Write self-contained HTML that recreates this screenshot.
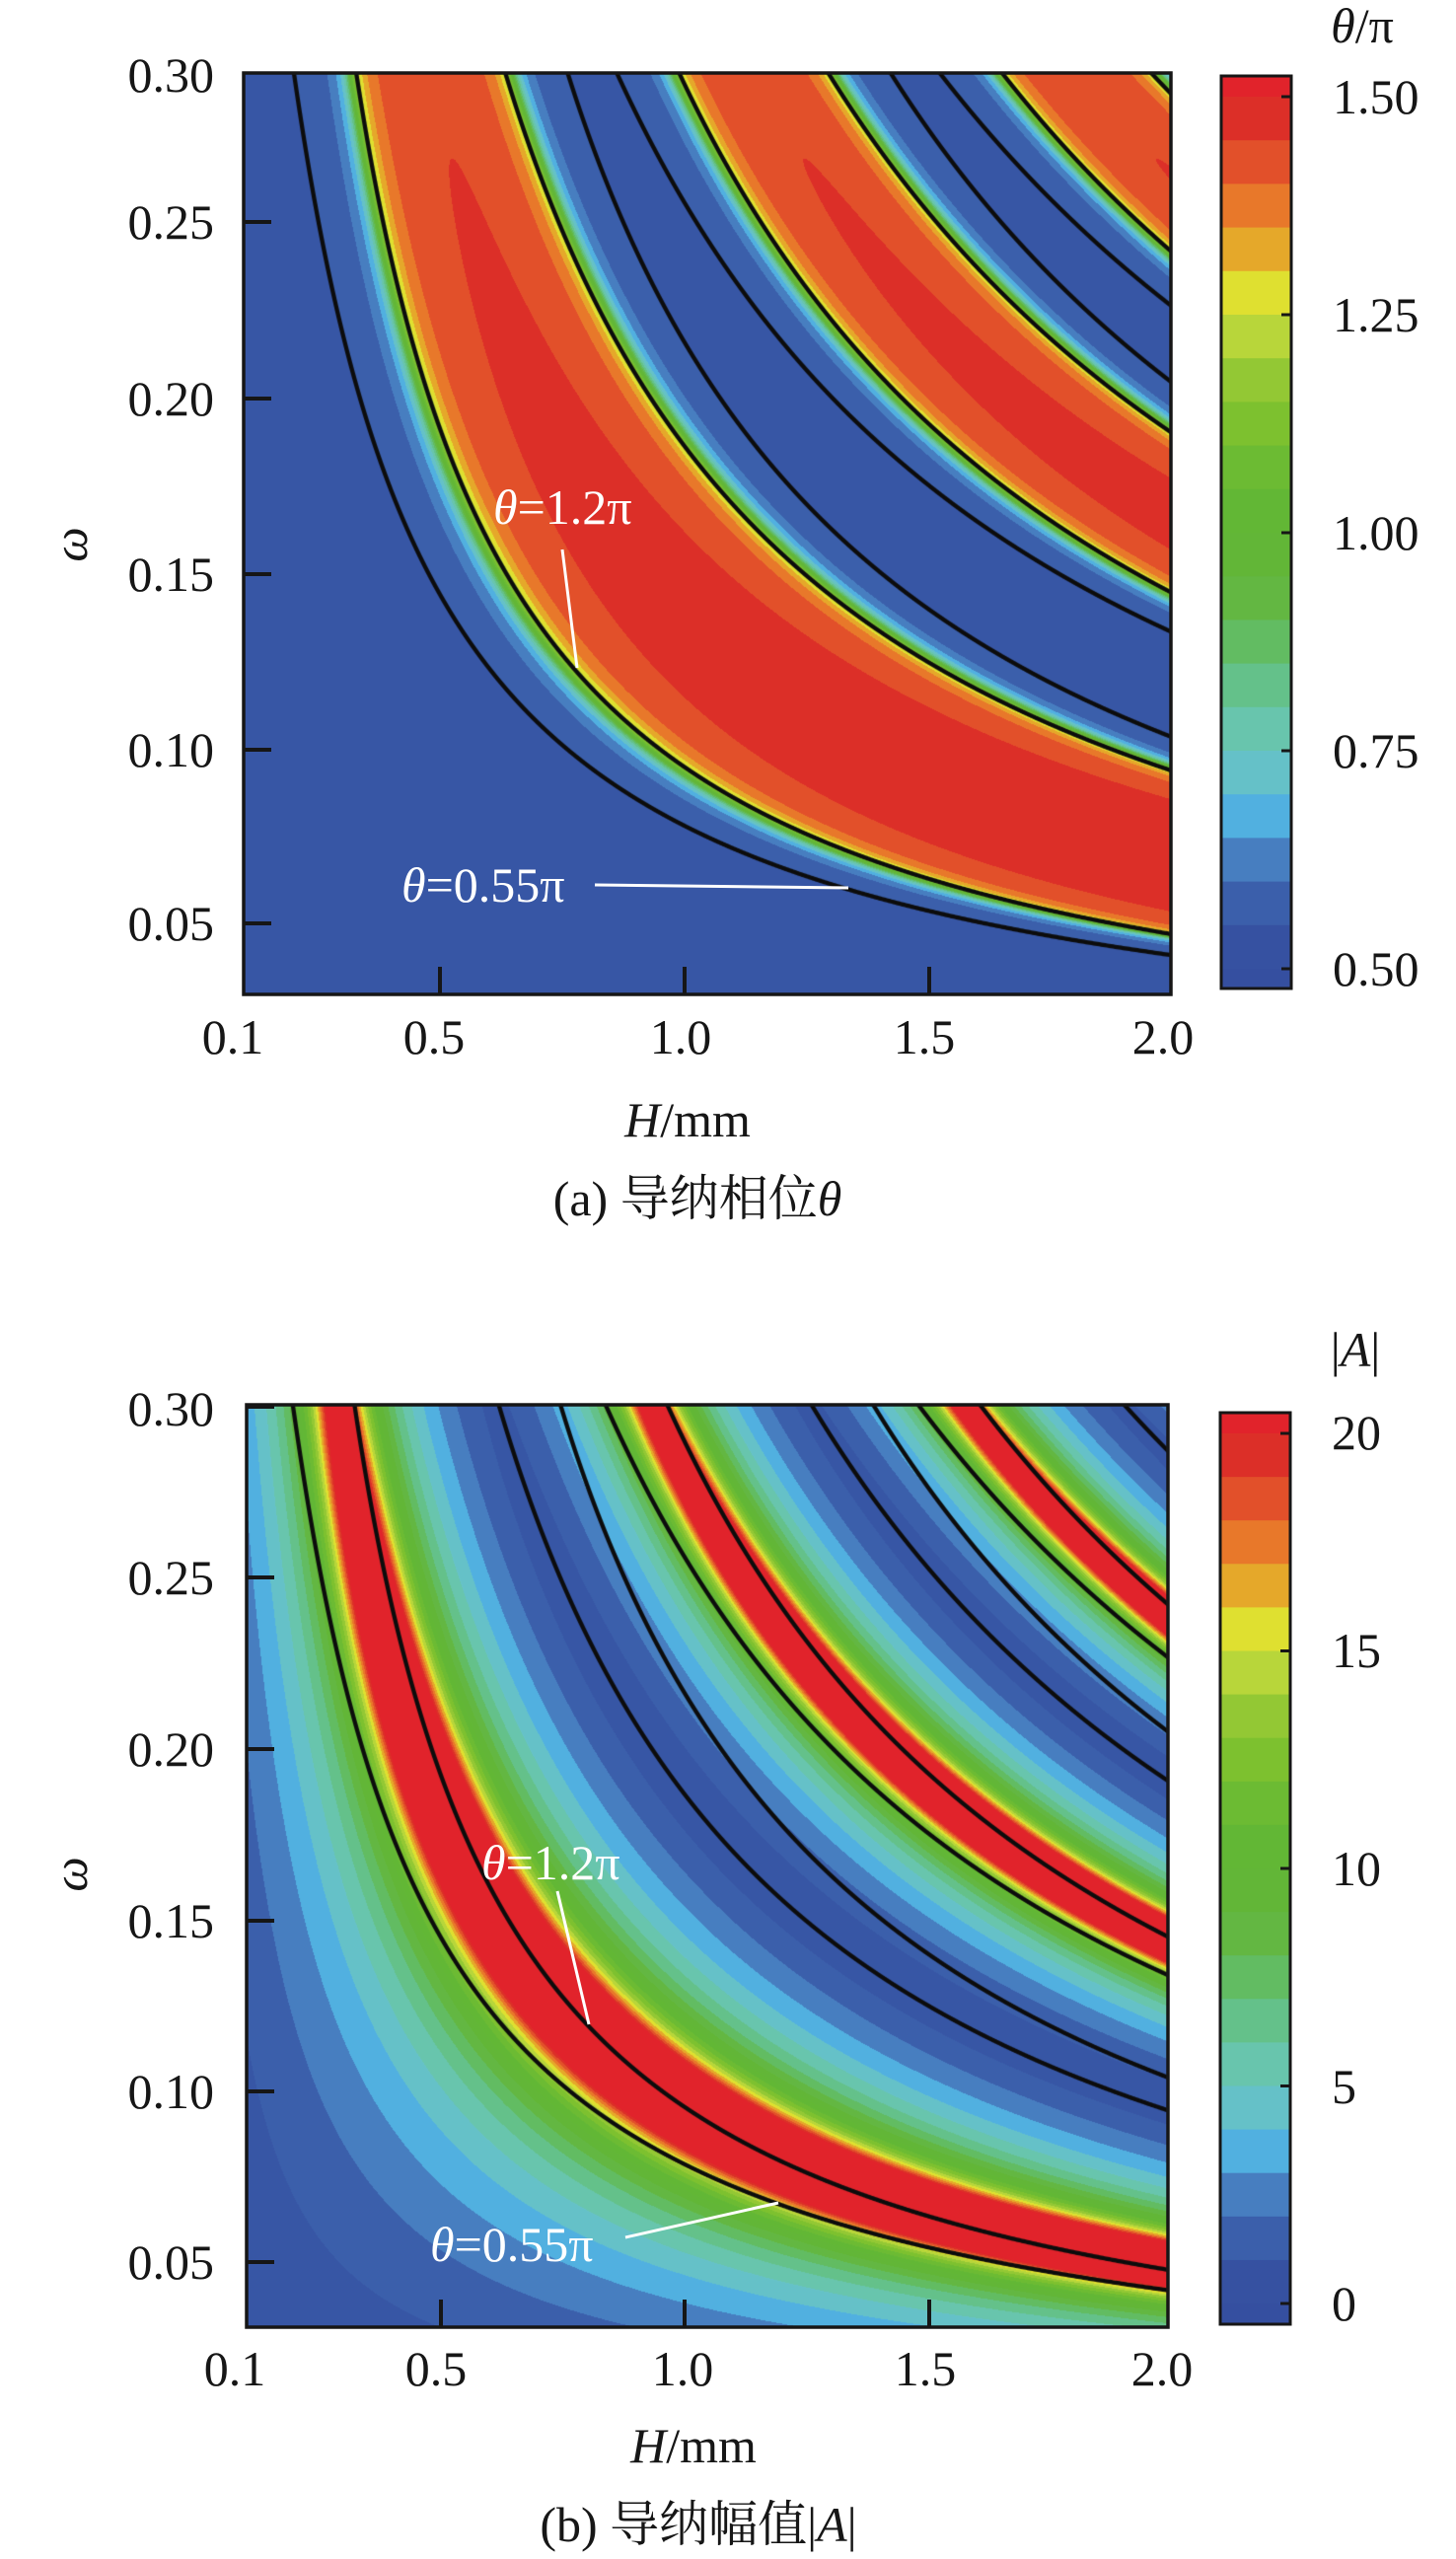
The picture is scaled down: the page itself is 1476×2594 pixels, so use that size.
<!DOCTYPE html>
<html>
<head>
<meta charset="utf-8">
<style>
html,body{margin:0;padding:0;background:#ffffff;}
body{width:1476px;height:2594px;position:relative;overflow:hidden;}
canvas{position:absolute;display:block;}
#ca{left:247px;top:74px;background:#3651a1;}
#cb{left:250px;top:1424px;background:#3b5fab;}
svg{position:absolute;left:0;top:0;}
text{font-family:"Liberation Serif","Noto Serif CJK SC",serif;font-size:50px;fill:#161616;}
.w{fill:#ffffff;}
.i{font-style:italic;}
</style>
</head>
<body>
<canvas id="ca" width="940" height="934"></canvas>
<canvas id="cb" width="934" height="935"></canvas>

<svg width="1476" height="2594" viewBox="0 0 1476 2594" xmlns="http://www.w3.org/2000/svg">
<!-- ================= PLOT A ================= -->
<rect x="247" y="74" width="940" height="934" fill="none" stroke="#161616" stroke-width="3.5"/>
<g stroke="#161616" stroke-width="4">
  <line x1="247" y1="225" x2="275" y2="225"/>
  <line x1="247" y1="404" x2="275" y2="404"/>
  <line x1="247" y1="582" x2="275" y2="582"/>
  <line x1="247" y1="760" x2="275" y2="760"/>
  <line x1="247" y1="936" x2="275" y2="936"/>
  <line x1="446" y1="1008" x2="446" y2="980"/>
  <line x1="694" y1="1008" x2="694" y2="980"/>
  <line x1="942" y1="1008" x2="942" y2="980"/>
</g>
<g text-anchor="end">
  <text x="217" y="93">0.30</text>
  <text x="217" y="242">0.25</text>
  <text x="217" y="421">0.20</text>
  <text x="217" y="599">0.15</text>
  <text x="217" y="777">0.10</text>
  <text x="217" y="953">0.05</text>
</g>
<g text-anchor="middle">
  <text x="236" y="1068">0.1</text>
  <text x="440" y="1068">0.5</text>
  <text x="690" y="1068">1.0</text>
  <text x="937" y="1068">1.5</text>
  <text x="1179" y="1068">2.0</text>
  <text x="697" y="1152"><tspan class="i">H</tspan>/mm</text>
  <text x="707" y="1232">(a) 导纳相位<tspan class="i">θ</tspan></text>
  <text x="1381" y="43"><tspan class="i">θ</tspan>/π</text>
</g>
<text class="i" text-anchor="middle" transform="translate(88,552) rotate(-90)">ω</text>

<!-- annotations A -->
<g stroke="#ffffff" stroke-width="3">
  <line x1="570" y1="557" x2="585" y2="677"/>
  <line x1="603" y1="897" x2="860" y2="900"/>
</g>
<text class="w" x="500" y="531"><tspan class="i">θ</tspan>=1.2π</text>
<text class="w" x="407" y="914"><tspan class="i">θ</tspan>=0.55π</text>

<!-- colorbar A -->
<g>
  <rect x="1238" y="77" width="71" height="21.5" fill="#e1232b"/>
  <rect x="1238" y="98" width="71" height="44.6" fill="#dc2f28"/>
  <rect x="1238" y="142.2" width="71" height="44.6" fill="#e2502a"/>
  <rect x="1238" y="186.4" width="71" height="44.6" fill="#e8782a"/>
  <rect x="1238" y="230.6" width="71" height="44.6" fill="#e5a82a"/>
  <rect x="1238" y="274.8" width="71" height="44.6" fill="#dfe030"/>
  <rect x="1238" y="319" width="71" height="44.6" fill="#b8d63a"/>
  <rect x="1238" y="363.2" width="71" height="44.6" fill="#93c834"/>
  <rect x="1238" y="407.4" width="71" height="44.6" fill="#7dc12f"/>
  <rect x="1238" y="451.6" width="71" height="44.6" fill="#6cbb33"/>
  <rect x="1238" y="495.8" width="71" height="44.6" fill="#62b735"/>
  <rect x="1238" y="540" width="71" height="44.6" fill="#62b637"/>
  <rect x="1238" y="584.2" width="71" height="44.6" fill="#63b742"/>
  <rect x="1238" y="628.4" width="71" height="44.6" fill="#62bc62"/>
  <rect x="1238" y="672.6" width="71" height="44.6" fill="#64c18a"/>
  <rect x="1238" y="716.8" width="71" height="44.6" fill="#68c5ad"/>
  <rect x="1238" y="761" width="71" height="44.6" fill="#65c1c8"/>
  <rect x="1238" y="805.2" width="71" height="44.6" fill="#51b0e0"/>
  <rect x="1238" y="849.4" width="71" height="44.6" fill="#477ec0"/>
  <rect x="1238" y="893.6" width="71" height="44.6" fill="#3b5fab"/>
  <rect x="1238" y="937.8" width="71" height="44.6" fill="#3651a1"/>
  <rect x="1238" y="982" width="71" height="20" fill="#354fa0"/>
</g>
<rect x="1238" y="77" width="71" height="925" fill="none" stroke="#161616" stroke-width="3"/>
<g stroke="#161616" stroke-width="3">
  <line x1="1299" y1="98" x2="1309" y2="98"/>
  <line x1="1299" y1="319" x2="1309" y2="319"/>
  <line x1="1299" y1="540" x2="1309" y2="540"/>
  <line x1="1299" y1="761" x2="1309" y2="761"/>
  <line x1="1299" y1="982" x2="1309" y2="982"/>
</g>
<g>
  <text x="1351" y="115">1.50</text>
  <text x="1351" y="336">1.25</text>
  <text x="1351" y="557">1.00</text>
  <text x="1351" y="778">0.75</text>
  <text x="1351" y="999">0.50</text>
</g>

<!-- ================= PLOT B ================= -->
<rect x="250" y="1424" width="934" height="935" fill="none" stroke="#161616" stroke-width="3.5"/>
<g stroke="#161616" stroke-width="4">
  <line x1="250" y1="1426" x2="278" y2="1426"/>
  <line x1="250" y1="1599" x2="278" y2="1599"/>
  <line x1="250" y1="1773" x2="278" y2="1773"/>
  <line x1="250" y1="1947" x2="278" y2="1947"/>
  <line x1="250" y1="2120" x2="278" y2="2120"/>
  <line x1="250" y1="2293" x2="278" y2="2293"/>
  <line x1="447" y1="2359" x2="447" y2="2331"/>
  <line x1="694" y1="2359" x2="694" y2="2331"/>
  <line x1="942" y1="2359" x2="942" y2="2331"/>
</g>
<g text-anchor="end">
  <text x="217" y="1445">0.30</text>
  <text x="217" y="1616">0.25</text>
  <text x="217" y="1790">0.20</text>
  <text x="217" y="1964">0.15</text>
  <text x="217" y="2137">0.10</text>
  <text x="217" y="2310">0.05</text>
</g>
<g text-anchor="middle">
  <text x="238" y="2418">0.1</text>
  <text x="442" y="2418">0.5</text>
  <text x="692" y="2418">1.0</text>
  <text x="938" y="2418">1.5</text>
  <text x="1178" y="2418">2.0</text>
  <text x="703" y="2496"><tspan class="i">H</tspan>/mm</text>
  <text x="708" y="2576">(b) 导纳幅值|<tspan class="i">A</tspan>|</text>
  <text x="1374" y="1385">|<tspan class="i">A</tspan>|</text>
</g>
<text class="i" text-anchor="middle" transform="translate(88,1900) rotate(-90)">ω</text>

<!-- annotations B -->
<g stroke="#ffffff" stroke-width="3">
  <line x1="565" y1="1917" x2="597" y2="2052"/>
  <line x1="634" y1="2268" x2="789" y2="2233"/>
</g>
<text class="w" x="488" y="1905"><tspan class="i">θ</tspan>=1.2π</text>
<text class="w" x="436" y="2292"><tspan class="i">θ</tspan>=0.55π</text>

<!-- colorbar B -->
<g>
  <rect x="1237" y="1432" width="71" height="21.5" fill="#e1232b"/>
  <rect x="1237" y="1453" width="71" height="44.5" fill="#dc2f28"/>
  <rect x="1237" y="1497.1" width="71" height="44.5" fill="#e2502a"/>
  <rect x="1237" y="1541.2" width="71" height="44.5" fill="#e8782a"/>
  <rect x="1237" y="1585.3" width="71" height="44.5" fill="#e5a82a"/>
  <rect x="1237" y="1629.4" width="71" height="44.5" fill="#dfe030"/>
  <rect x="1237" y="1673.5" width="71" height="44.5" fill="#b8d63a"/>
  <rect x="1237" y="1717.6" width="71" height="44.5" fill="#93c834"/>
  <rect x="1237" y="1761.7" width="71" height="44.5" fill="#7dc12f"/>
  <rect x="1237" y="1805.8" width="71" height="44.5" fill="#6cbb33"/>
  <rect x="1237" y="1849.9" width="71" height="44.5" fill="#62b735"/>
  <rect x="1237" y="1894" width="71" height="44.5" fill="#62b637"/>
  <rect x="1237" y="1938.1" width="71" height="44.5" fill="#63b742"/>
  <rect x="1237" y="1982.2" width="71" height="44.5" fill="#62bc62"/>
  <rect x="1237" y="2026.3" width="71" height="44.5" fill="#64c18a"/>
  <rect x="1237" y="2070.4" width="71" height="44.5" fill="#68c5ad"/>
  <rect x="1237" y="2114.5" width="71" height="44.5" fill="#65c1c8"/>
  <rect x="1237" y="2158.6" width="71" height="44.5" fill="#51b0e0"/>
  <rect x="1237" y="2202.7" width="71" height="44.5" fill="#477ec0"/>
  <rect x="1237" y="2246.8" width="71" height="44.5" fill="#3b5fab"/>
  <rect x="1237" y="2290.9" width="71" height="44.5" fill="#3651a1"/>
  <rect x="1237" y="2335" width="71" height="21" fill="#354fa0"/>
</g>
<rect x="1237" y="1432" width="71" height="924" fill="none" stroke="#161616" stroke-width="3"/>
<g stroke="#161616" stroke-width="3">
  <line x1="1298" y1="1453" x2="1308" y2="1453"/>
  <line x1="1298" y1="1673.5" x2="1308" y2="1673.5"/>
  <line x1="1298" y1="1894" x2="1308" y2="1894"/>
  <line x1="1298" y1="2114.5" x2="1308" y2="2114.5"/>
  <line x1="1298" y1="2335" x2="1308" y2="2335"/>
</g>
<g>
  <text x="1350" y="1469">20</text>
  <text x="1350" y="1690">15</text>
  <text x="1350" y="1911">10</text>
  <text x="1350" y="2132">5</text>
  <text x="1350" y="2352">0</text>
</g>
</svg>

<script>
(function(){
  var HEX=['#354fa0','#3756a5','#3b5fab','#477ec0','#51b0e0','#65c1c8','#68c5ad','#64c18a','#62bc62','#63b742','#62b637','#62b735','#6cbb33','#7dc12f','#93c834','#b8d63a','#dfe030','#e5a82a','#e8782a','#e2502a','#dc2f28','#e1232b'];
  var RGB=HEX.map(function(h){return [parseInt(h.substr(1,2),16),parseInt(h.substr(3,2),16),parseInt(h.substr(5,2),16)];});
  var U0=0.093, P=0.1935, TP=2*Math.PI, RA=0.85;
  function rOf(w){return 0.26*Math.sqrt(Math.max(w,1e-6));}
  function thetaSeg(H,w){
    var u=H*w, psi=TP*(u-U0)/P;
    var F;
    if(psi < -Math.PI/2){F=1;}
    else{var s=Math.sin(psi); F = s>0 ? -RA*s : -s;}
    var th = 0.5 + Math.atan2(rOf(w),F)/Math.PI;
    if(th<0.5) return 0;
    return Math.min(21, 1+Math.floor((th-0.5)/0.05));
  }
  function ampSeg(H,w){
    var u=H*w, z=(u-U0)/P, zr=0.035-0.22*w, d=Math.PI*(z-zr), e=2*w*w;
    var c=Math.cos(d), s=Math.sin(d);
    var A=4.5*Math.sqrt(c*c+e*e)/Math.sqrt(s*s+e*e);
    if(A<0) return 0;
    return Math.min(21, 1+Math.floor(A));
  }
  function render(cfg){
    var cv=document.getElementById(cfg.id);
    if(!cv||!cv.getContext) return;
    var ctx=cv.getContext('2d');
    var W=cv.width, Hh=cv.height;
    var img=ctx.createImageData(W,Hh), D=img.data;
    function xToH(px){return 0.1+(px-cfg.left)*1.9/W;}
    function HToX(H){return (H-0.1)*W/1.9;}
    function yToW(py){return cfg.wRef-(py-cfg.yRef)/cfg.sY;}
    for(var j=0;j<Hh;j++){
      var w=yToW(cfg.top+j+0.5);
      for(var i=0;i<W;i++){
        var H=xToH(cfg.left+i+0.5);
        var c=RGB[cfg.fn(H,w)];
        var k=(j*W+i)*4;
        D[k]=c[0];D[k+1]=c[1];D[k+2]=c[2];D[k+3]=255;
      }
    }
    ctx.putImageData(img,0,0);
    ctx.strokeStyle='#0c0c0c';
    ctx.lineWidth=4.3;
    ctx.lineJoin='round';
    ctx.lineCap='round';
    var levels=[6.3138,-0.7265];
    var N=3000;
    for(var li=0;li<levels.length;li++){
      var cL=levels[li];
      for(var kk=-1;kk<=4;kk++){
        for(var br=0;br<2;br++){
          ctx.beginPath();
          var started=false;
          for(var n=0;n<=N;n++){
            var py=cfg.top-6+(Hh+12)*n/N;
            var w=yToW(py);
            if(w<=0.001){started=false;continue;}
            var s = cL<0 ? -rOf(w)*cL/RA : -rOf(w)*cL;
            if(Math.abs(s)>1){started=false;continue;}
            var psi=(br===0?Math.asin(s):Math.PI-Math.asin(s))+TP*kk;
            if(psi< -Math.PI/2){started=false;continue;}
            var u=U0+P*psi/TP;
            if(u<=0){started=false;continue;}
            var Hv=u/w;
            var x=HToX(Hv), y=py-cfg.top;
            if(x<-400||x>W+400){ if(started){ctx.lineTo(x,y);} started=false; continue;}
            if(!started){ctx.moveTo(x,y);started=true;}
            else ctx.lineTo(x,y);
          }
          ctx.stroke();
        }
      }
    }
  }
  render({id:'ca',left:247,top:74,wRef:0.25,yRef:225,sY:3560,fn:thetaSeg});
  render({id:'cb',left:250,top:1424,wRef:0.30,yRef:1424,sY:3469,fn:ampSeg});
})();
</script>
</body>
</html>
